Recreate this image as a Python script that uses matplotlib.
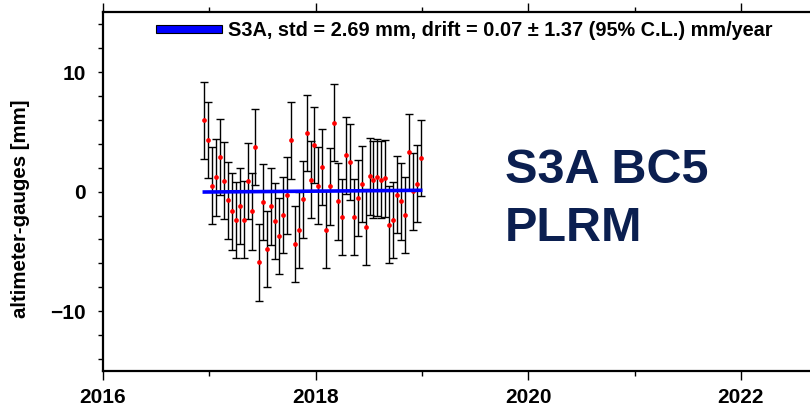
import matplotlib
matplotlib.use('Agg')
import matplotlib.pyplot as plt
from matplotlib.patches import Patch
from matplotlib.ticker import MultipleLocator, FixedLocator

plt.rcParams['font.family'] = ['Liberation Sans', 'DejaVu Sans']
plt.rcParams['font.weight'] = 'bold'

# decimal year of each point
times = [2016.953, 2016.990, 2017.027, 2017.064, 2017.101, 2017.138, 2017.175,
         2017.212, 2017.249, 2017.286, 2017.323, 2017.360, 2017.397, 2017.434,
         2017.471, 2017.508, 2017.545, 2017.582, 2017.619, 2017.656, 2017.693,
         2017.730, 2017.767, 2017.804, 2017.841, 2017.878, 2017.915, 2017.952,
         2017.989, 2018.026, 2018.063, 2018.100, 2018.137, 2018.174, 2018.211,
         2018.248, 2018.285, 2018.322, 2018.359, 2018.396, 2018.433, 2018.470,
         2018.507, 2018.544, 2018.581, 2018.618, 2018.655, 2018.692, 2018.729,
         2018.766, 2018.803, 2018.840, 2018.877, 2018.914, 2018.951, 2018.988]

# altimeter minus gauges [mm]
diffs = [5.97, 4.33, 0.50, 1.19, 2.89, 0.92, -0.72, -1.64, -2.39, -1.19,
         -2.33, 0.89, -1.64, 3.72, -5.92, -0.86, -4.81, -1.22, -2.47, -3.69,
         -1.94, -0.31, 4.28, -4.36, -3.22, -0.64, 4.92, 1.00, 3.92, 0.50,
         2.06, -3.17, 0.44, 5.78, -0.81, -2.11, 3.03, 2.47, -2.11, -0.53,
         0.64, -2.97, 1.28, 1.00, 1.19, 1.00, 1.11, -2.75, -2.39, -0.25,
         -0.81, -1.94, 3.33, 0.03, 0.67, 2.83]

# error bar half length [mm]
err = 3.2

# drift line: start value and slope (mm/year)
drift_start = -0.03
drift = 0.07

year_ticks = [2016, 2018, 2020, 2022]

fig = plt.figure(figsize=(8.1, 4.09), dpi=100)
ax = fig.add_axes([0.1272, 0.0929, 1.05, 0.877])

# error bars, then the red dots on top
ax.errorbar(times, diffs, yerr=err, fmt='none', ecolor='black',
            elinewidth=1.0, capsize=2.8, capthick=1.0, zorder=2)
ax.plot(times, diffs, 'o', color='red', markersize=3.4, markeredgewidth=0,
        zorder=3)

t0 = times[0]
t1 = times[-1]
ax.plot([t0, t1], [drift_start, drift_start + drift * (t1 - t0)],
        color='#0000ff', linewidth=2.6, zorder=4)

ax.set_xlim(2016, 2024)
ax.set_ylim(-15, 15)
ax.xaxis.set_major_locator(FixedLocator(year_ticks))
ax.xaxis.set_minor_locator(MultipleLocator(1))
ax.yaxis.set_major_locator(MultipleLocator(10))
ax.yaxis.set_minor_locator(MultipleLocator(2))
ax.tick_params(axis='x', which='major', direction='out', length=6.5, width=1,
               top=True, labelsize=15, pad=6)
ax.tick_params(axis='x', which='minor', direction='out', length=3.6, width=1,
               top=True)
ax.tick_params(axis='y', which='both', direction='out', length=3.6, width=1,
               labelsize=15, pad=9)
for lab in ax.get_xticklabels() + ax.get_yticklabels():
    lab.set_fontweight('bold')
for s in ax.spines.values():
    s.set_linewidth(1.6)

ax.set_ylabel('altimeter-gauges [mm]', fontsize=14.7, fontweight='bold')
ax.yaxis.set_label_coords(-0.086, 0.451)

handle = Patch(facecolor='#0000ff', edgecolor='black', linewidth=0.8)
fig.legend(handles=[handle],
           labels=['S3A, std = 2.69 mm, drift = 0.07 \u00b1 1.37 (95% C.L.) mm/year'],
           loc='center left', bbox_to_anchor=(156 / 810, 1 - 31 / 409),
           frameon=False, handlelength=3.3, handleheight=0.24,
           handletextpad=0.3, borderpad=0, borderaxespad=0,
           prop={'weight': 'bold', 'size': 14.3})

fig.text(505 / 810, 1 - 241 / 409, 'S3A BC5\nPLRM', fontsize=35,
         fontweight='bold', color='#0b1f50', ha='left', va='baseline',
         linespacing=1.36)

fig.savefig('out.png', dpi=100)
